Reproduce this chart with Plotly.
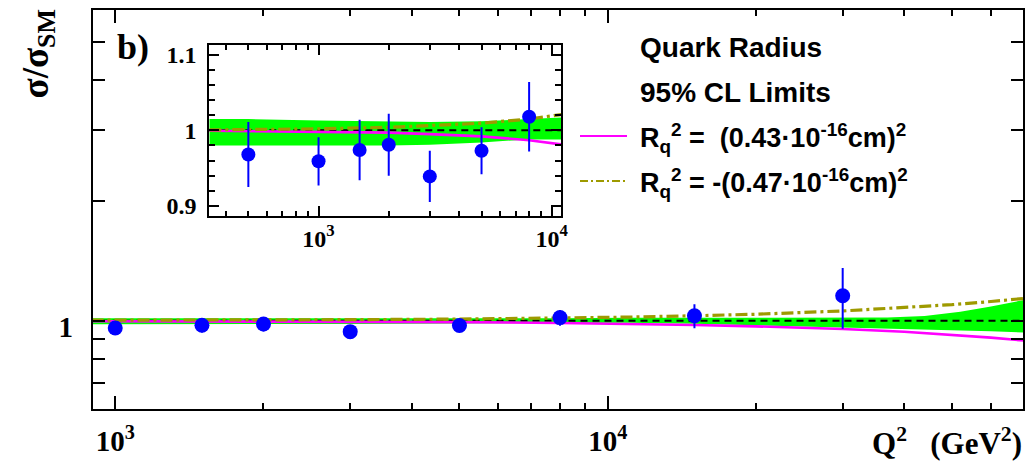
import plotly.graph_objects as go
import math

# ---------------- data ----------------
q2_data = [500, 1000, 1500, 2000, 3000, 5000, 8000, 15000, 30000]
ratio_data = [0.968, 0.959, 0.974, 0.981, 0.939, 0.973, 1.018, 1.029, 1.155]
ratio_err = [0.043, 0.032, 0.040, 0.041, 0.034, 0.031, 0.046, 0.071, 0.200]

q2_band = [340, 500, 1000, 2000, 3000, 5000, 8000, 11000, 15000, 20000, 30000, 37000, 44000, 52000, 60000, 66000, 70000]
band_upper = [1.015, 1.015, 1.013, 1.012, 1.011, 1.012, 1.015, 1.017, 1.017, 1.016, 1.016, 1.018, 1.028, 1.053, 1.085, 1.110, 1.127]
band_lower = [0.980, 0.980, 0.979, 0.980, 0.981, 0.984, 0.988, 0.988, 0.982, 0.974, 0.962, 0.957, 0.953, 0.947, 0.941, 0.937, 0.934]

q2_curve = [340, 500, 1000, 2000, 3000, 5000, 8000, 11000, 15000, 20000, 30000, 40000, 50000, 60000, 70000]
ratio_pos_rq = [0.9995, 0.999, 0.998, 0.997, 0.995, 0.992, 0.987, 0.982, 0.976, 0.968, 0.953, 0.938, 0.922, 0.907, 0.892]
ratio_neg_rq = [1.0006, 1.001, 1.002, 1.004, 1.006, 1.0095, 1.015, 1.021, 1.029, 1.038, 1.058, 1.077, 1.097, 1.117, 1.137]

q2_sm = [340, 70000]
ratio_sm = [1.0, 1.0]

main_xticks = [1000, 10000]
main_xticktext = ["10<sup>3</sup>", "10<sup>4</sup>"]
main_xminor = [2000, 3000, 4000, 5000, 6000, 7000, 8000, 9000, 20000, 30000, 40000, 50000, 60000]
main_yticks = [0.7, 0.8, 0.9, 1, 2, 3, 4, 5]
main_yticktext = ["", "", "", "1", "", "", "", ""]

inset_xminor = [400, 500, 600, 700, 800, 900, 2000, 3000, 4000, 5000, 6000, 7000, 8000, 9000]
inset_yticks = [0.9, 1.0, 1.1]
inset_yticktext = ["0.9", "1", "1.1"]
inset_yminor = [0.92, 0.94, 0.96, 0.98, 1.02, 1.04, 1.06, 1.08]

legend_labels = ["R<sub>q</sub><sup>2</sup> =  (0.43·10<sup>-16</sup>cm)<sup>2</sup>",
                 "R<sub>q</sub><sup>2</sup> = -(0.47·10<sup>-16</sup>cm)<sup>2</sup>"]

# ---------------- style ----------------
W, H = 1032, 466
def px(x):
    return x / W
def py(y):
    return 1 - y / H

GREEN = "#00ff00"
MAGENTA = "#ff00ff"
OLIVE = "#9e9a00"
BLUE = "#0000ff"
SERIF = "Liberation Serif"
SANS = "Liberation Sans"

fig = go.Figure()

def add_set(xa, ya, msize):
    fig.add_trace(go.Scatter(x=q2_band, y=band_lower, mode="lines", line=dict(width=0, color=GREEN),
                             xaxis=xa, yaxis=ya, showlegend=False, hoverinfo="skip"))
    fig.add_trace(go.Scatter(x=q2_band, y=band_upper, mode="lines", line=dict(width=0, color=GREEN),
                             fill="tonexty", fillcolor=GREEN,
                             xaxis=xa, yaxis=ya, showlegend=False, hoverinfo="skip"))
    fig.add_trace(go.Scatter(x=q2_sm, y=ratio_sm, mode="lines", line=dict(width=2, color="black", dash="7px,5px"),
                             xaxis=xa, yaxis=ya, showlegend=False))
    fig.add_trace(go.Scatter(x=q2_curve, y=ratio_pos_rq, mode="lines", line=dict(width=2.6, color=MAGENTA),
                             xaxis=xa, yaxis=ya, showlegend=False))
    fig.add_trace(go.Scatter(x=q2_curve, y=ratio_neg_rq, mode="lines",
                             line=dict(width=3.2, color=OLIVE, dash="12px,4px,3px,4px"),
                             xaxis=xa, yaxis=ya, showlegend=False))
    fig.add_trace(go.Scatter(x=q2_data, y=ratio_data, mode="markers",
                             marker=dict(size=msize, color=BLUE),
                             error_y=dict(type="data", array=ratio_err, thickness=2, width=0, color=BLUE),
                             xaxis=xa, yaxis=ya, showlegend=False))

add_set("x", "y", 15)
add_set("x2", "y2", 14)

axis_common = dict(showline=True, linecolor="black", linewidth=2, mirror="ticks", ticks="inside",
                   tickcolor="black", tickwidth=2, showgrid=False, zeroline=False, automargin=False)

fig.update_layout(
    width=W, height=H,
    margin=dict(l=0, r=0, t=0, b=0),
    paper_bgcolor="white", plot_bgcolor="white",
    showlegend=False,
    xaxis=dict(type="log", range=[math.log10(900), math.log10(69800)],
               domain=[px(92.7), px(1023.3)], anchor="y",
               tickvals=main_xticks, ticktext=main_xticktext, ticklen=13,
               minor=dict(tickvals=main_xminor, ticklen=6, ticks="inside", tickcolor="black", tickwidth=2),
               tickfont=dict(family=SERIF, size=29, color="black", weight="bold"),
               ticklabelstandoff=5, **axis_common),
    yaxis=dict(type="log", range=[math.log10(0.6), math.log10(6)],
               domain=[py(409.3), py(10)], anchor="x",
               tickvals=main_yticks, ticktext=main_yticktext, ticklen=12,
               tickfont=dict(family=SERIF, size=29, color="black", weight="bold"),
               ticklabelstandoff=12, ticklabelshift=6, **axis_common),
    xaxis2=dict(type="log", range=[math.log10(340), math.log10(10960)],
                domain=[px(209.3), px(561)], anchor="y2",
                tickvals=main_xticks, ticktext=main_xticktext, ticklen=10,
                minor=dict(tickvals=inset_xminor, ticklen=5, ticks="inside", tickcolor="black", tickwidth=2),
                tickfont=dict(family=SERIF, size=24, color="black", weight="bold"),
                ticklabelstandoff=0, **axis_common),
    yaxis2=dict(range=[0.887, 1.113],
                domain=[py(215.7), py(45)], anchor="x2",
                tickvals=inset_yticks, ticktext=inset_yticktext, ticklen=10,
                minor=dict(tickvals=inset_yminor, ticklen=6, ticks="inside", tickcolor="black", tickwidth=2),
                tickfont=dict(family=SERIF, size=24, color="black", weight="bold"),
                ticklabelstandoff=6, **axis_common),
)

annotations = [
    dict(text="b)", x=px(115), y=py(47), xanchor="left", yanchor="middle",
         font=dict(family=SERIF, size=36, color="black", weight="bold")),
    dict(text="σ/σ<sub>SM</sub>", x=px(38), y=py(8), xanchor="center", yanchor="top", textangle=-90,
         font=dict(family=SERIF, size=37, color="black", weight="bold")),
    dict(text="Q<sup>2</sup>   (GeV<sup>2</sup>)", x=px(1024), y=py(441), xanchor="right", yanchor="middle",
         font=dict(family=SERIF, size=31, color="black", weight="bold")),
    dict(text="Quark Radius", x=px(638), y=py(47), xanchor="left", yanchor="middle",
         font=dict(family=SANS, size=28, color="black", weight="bold")),
    dict(text="95% CL Limits", x=px(638), y=py(92), xanchor="left", yanchor="middle",
         font=dict(family=SANS, size=28, color="black", weight="bold")),
    dict(text=legend_labels[0], x=px(638), y=py(138), xanchor="left", yanchor="middle",
         font=dict(family=SANS, size=27, color="black", weight="bold")),
    dict(text=legend_labels[1], x=px(638), y=py(183), xanchor="left", yanchor="middle",
         font=dict(family=SANS, size=27, color="black", weight="bold")),
]
for a in annotations:
    a.update(xref="paper", yref="paper", showarrow=False)
fig.update_layout(annotations=annotations)

fig.add_shape(type="line", xref="paper", yref="paper", x0=px(580), x1=px(627), y0=py(136), y1=py(136),
              line=dict(color=MAGENTA, width=2))
fig.add_shape(type="line", xref="paper", yref="paper", x0=px(580), x1=px(627), y0=py(181), y1=py(181),
              line=dict(color=OLIVE, width=2, dash="8px,3px,2px,3px"))

fig.write_html("out.html")
